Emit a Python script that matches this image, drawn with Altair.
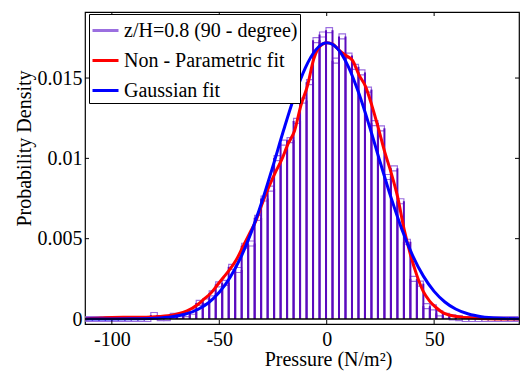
import altair as alt
import pandas as pd

# ---------------- data ----------------
BIN_START = -112.06
BIN_WIDTH = 3.02
DENSITY = [
    0, 0, 0, 0, 0, 0, 0, 0, 0, 0,
    0.00025, 0.00005, 0.00005, 0.0002, 0.0002, 0.0003, 0.00045, 0.001, 0.0011, 0.0016,
    0.00215, 0.00225, 0.00325, 0.00305, 0.00456, 0.0047, 0.0063, 0.0075, 0.00811, 0.01002,
    0.01098, 0.01113, 0.01233, 0.0136, 0.01474, 0.01736, 0.01771, 0.01798, 0.01608, 0.01759,
    0.0164, 0.0157, 0.01535, 0.01428, 0.01219, 0.01187, 0.00884, 0.00938, 0.00733, 0.00481,
    0.0025, 0.0022, 0.0008, 0.00072, 0.00035, 0.0002, 0.0001, 0.00005, 0, 0,
    0, 0, 0, 0, 0, 0, 0,
]

NP_X = [-112, -105, -100, -92, -84, -78, -74, -70, -65, -60, -57, -54, -51, -48, -45, -42,
        -39, -36, -33, -30, -27, -24, -21, -18, -15, -12, -9, -6, -3, 0, 3, 6, 9, 12, 15,
        18, 21, 24, 27, 30, 33, 36, 39, 42, 45, 48, 51, 54, 57, 62, 68, 75, 89.5]
NP_Y = [0.00002, 0.00006, 0.0001, 0.00011, 0.00011, 0.00015, 0.0002, 0.0003, 0.0005, 0.0009,
        0.00125, 0.0016, 0.0021, 0.0026, 0.0031, 0.0037, 0.0045, 0.0053, 0.0061, 0.0072,
        0.0082, 0.0091, 0.0099, 0.0109, 0.0117, 0.0133, 0.0145, 0.0162, 0.0170, 0.0172,
        0.0171, 0.0167, 0.0164, 0.0161, 0.0152, 0.0145, 0.0133, 0.0119, 0.0104, 0.0091,
        0.0076, 0.0056, 0.0040, 0.0027, 0.0017, 0.0011, 0.0007, 0.0004, 0.00025, 0.00012,
        0.00006, 0.00002, 0.0]

GAUSS_X = [-112, -100, -90, -80, -72, -66, -60, -55, -50, -45, -40, -35, -30, -25, -20, -15,
           -10, -5, 0, 5, 10, 15, 20, 25, 30, 35, 40, 45, 50, 55, 60, 66, 72, 80, 89.5]
GAUSS_Y = [0.0000001, 0.0000015, 0.000009, 0.000044, 0.000136, 0.000293, 0.000593, 0.00101,
           0.00166, 0.00258, 0.00383, 0.00544, 0.00737, 0.00953, 0.01178, 0.01388, 0.01562,
           0.01677, 0.0172, 0.01684, 0.01573, 0.01403, 0.01195, 0.00971, 0.00754, 0.00558,
           0.00395, 0.00267, 0.00172, 0.00106, 0.00062, 0.000308, 0.000143, 0.000046, 0.000011]

X_TICKS = [-100, -50, 0, 50]
Y_TICKS = [0, 0.005, 0.01, 0.015]

SERIES = ["z/H=0.8 (90 - degree)", "Non - Parametric fit", "Gaussian fit"]
COLORS = ["#9b6fe0", "#ff0000", "#0000ff"]
DARK_PURPLE = "#5a0abe"
FONT = "Liberation Serif"

# ---------------- tables ----------------
hist = pd.DataFrame({
    "x0": [BIN_START + i * BIN_WIDTH for i in range(len(DENSITY))],
    "x1": [BIN_START + (i + 1) * BIN_WIDTH for i in range(len(DENSITY))],
    "density": DENSITY,
    "series": SERIES[0],
})
np_df = pd.DataFrame({"x": NP_X, "y": NP_Y, "series": SERIES[1]})
gauss_df = pd.DataFrame({"x": GAUSS_X, "y": GAUSS_Y, "series": SERIES[2]})
xt_df = pd.DataFrame({"v": X_TICKS})
yt_df = pd.DataFrame({"v": Y_TICKS})

W, H = 434, 312

xs = alt.Scale(domain=[-112.5, 89.5], nice=False, zero=False)
ys = alt.Scale(domain=[0, 0.0188], nice=False, zero=False)
cs = alt.Scale(domain=SERIES, range=COLORS)

xaxis = alt.Axis(values=X_TICKS, labelExpr="'' + datum.value", title="Pressure (N/m²)",
                 titleX=243, titleY=41, titleBaseline="alphabetic", titleAlign="center",
                 labelPadding=5, ticks=False, domain=False, grid=False)
yaxis = alt.Axis(values=Y_TICKS, format="~g", title="Probability Density",
                 titleX=-55, titleY=136, titleAngle=270, titleBaseline="alphabetic",
                 titleAlign="center", labelPadding=3,
                 ticks=False, domain=False, grid=False)
legend = alt.Legend(title=None, orient="none", legendX=4, legendY=2, symbolType="stroke",
                    symbolSize=676, symbolStrokeWidth=3, labelLimit=400,
                    fillColor="white", strokeColor="black",
                    padding=2, rowPadding=5, labelOffset=4)


def X(field):
    return alt.X(field, scale=xs, axis=xaxis)


def Y(field):
    return alt.Y(field, scale=ys, axis=yaxis)


color = alt.Color("series:N", scale=cs, legend=legend)

bars = alt.Chart(hist).mark_bar(filled=False, strokeWidth=1.2, clip=True).encode(
    x=X("x0:Q"), x2="x1:Q", y=Y("density:Q"), color=color)
left_sides = alt.Chart(hist).mark_rule(color=DARK_PURPLE, strokeWidth=2, clip=True).encode(
    x=X("x0:Q"), y=Y("density:Q"), y2=alt.datum(0))
right_sides = alt.Chart(hist).mark_rule(color=DARK_PURPLE, strokeWidth=2, clip=True).encode(
    x=X("x1:Q"), y=Y("density:Q"), y2=alt.datum(0))

np_line = alt.Chart(np_df).mark_line(strokeWidth=3, interpolate="monotone", clip=True).encode(
    x=X("x:Q"), y=Y("y:Q"), color=color)
gauss_line = alt.Chart(gauss_df).mark_line(strokeWidth=3, interpolate="monotone", clip=True).encode(
    x=X("x:Q"), y=Y("y:Q"), color=color)

baseline = alt.Chart(yt_df).transform_filter("datum.v == 0").mark_rule(
    color="black", strokeWidth=1.5).encode(y=Y("v:Q"), x=alt.value(0), x2=alt.value(W))

tick_b = alt.Chart(xt_df).mark_rule(color="black", strokeWidth=1).encode(
    x=X("v:Q"), y=alt.value(H), y2=alt.value(H - 4))
tick_t = alt.Chart(xt_df).mark_rule(color="black", strokeWidth=1).encode(
    x=X("v:Q"), y=alt.value(0), y2=alt.value(4))
tick_l = alt.Chart(yt_df).mark_rule(color="black", strokeWidth=1).encode(
    y=Y("v:Q"), x=alt.value(0), x2=alt.value(4))
tick_r = alt.Chart(yt_df).mark_rule(color="black", strokeWidth=1).encode(
    y=Y("v:Q"), x=alt.value(W), x2=alt.value(W - 4))

chart = alt.layer(
    bars, left_sides, right_sides, tick_b, tick_t, tick_l, tick_r, np_line, gauss_line, baseline
).properties(
    width=W, height=H,
    autosize=alt.AutoSizeParams(type="none"),
    padding={"left": 85, "top": 12, "right": 1, "bottom": 47},
    background="white",
).configure(
    font=FONT,
).configure_axis(
    labelFont=FONT, labelFontSize=20, labelColor="black",
    titleFont=FONT, titleFontSize=20, titleFontWeight="normal", titleColor="black",
).configure_legend(
    labelFont=FONT, labelFontSize=20, labelColor="black",
).configure_view(stroke="black", strokeWidth=1.2)

chart.save("out.html", embed_options={"renderer": "svg", "actions": False})
